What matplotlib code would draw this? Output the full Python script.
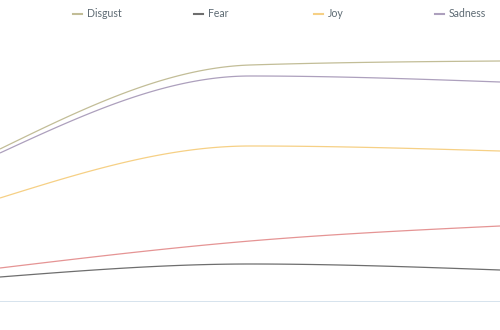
import numpy as np
import matplotlib
matplotlib.use("Agg")
import matplotlib.pyplot as plt
from matplotlib.lines import Line2D

# three sample points spread across the width
x = [0, 1, 2]
disgust = [153, 237, 241]
sadness = [149, 226, 220]
joy = [104, 156, 151]
anger = [34, 61, 76]
fear = [25, 38, 32]

series = [
    ("Disgust", disgust, "#c2bd97"),
    ("Sadness", sadness, "#ada0bd"),
    ("Joy", joy, "#f6d085"),
    ("Anger", anger, "#e59494"),
    ("Fear", fear, "#6e6e6e"),
]
legend_names = ["Disgust", "Fear", "Joy", "Sadness"]


def monotone(xs, ys, n=60):
    # d3 curveMonotoneX style interpolation
    xs = np.asarray(xs, float)
    ys = np.asarray(ys, float)
    h = np.diff(xs)
    s = np.diff(ys) / h
    t = np.zeros(len(xs))
    for i in range(1, len(xs) - 1):
        p = (s[i - 1] * h[i] + s[i] * h[i - 1]) / (h[i - 1] + h[i])
        t[i] = (np.sign(s[i - 1]) + np.sign(s[i])) * min(abs(s[i - 1]), abs(s[i]), 0.5 * abs(p))
    t[0] = (3 * s[0] - t[1]) / 2
    t[-1] = (3 * s[-1] - t[-2]) / 2
    out_x, out_y = [], []
    for i in range(len(xs) - 1):
        u = np.linspace(0, 1, n)
        dx = h[i] / 3
        p0 = np.array([xs[i], ys[i]])
        p1 = np.array([xs[i] + dx, ys[i] + dx * t[i]])
        p2 = np.array([xs[i + 1] - dx, ys[i + 1] - dx * t[i + 1]])
        p3 = np.array([xs[i + 1], ys[i + 1]])
        b = ((1 - u) ** 3)[:, None] * p0 + (3 * (1 - u) ** 2 * u)[:, None] * p1 \
            + (3 * (1 - u) * u ** 2)[:, None] * p2 + (u ** 3)[:, None] * p3
        out_x.extend(b[:, 0])
        out_y.extend(b[:, 1])
    return out_x, out_y


fig = plt.figure(figsize=(5, 3.3), dpi=100)
ax = fig.add_axes([0, 28 / 330, 1, 302 / 330])
ax.set_xlim(0, 2)
ax.set_ylim(0, 302)
ax.axis("off")

colors = {}
for name, vals, c in series:
    sx, sy = monotone(x, vals)
    ax.plot(sx, sy, color=c, lw=0.9, solid_capstyle="butt")
    colors[name] = c

ax.axhline(0, color="#d3e0ec", lw=1.3)

# legend across the top
starts = [73, 194, 314, 435]
for name, px in zip(legend_names, starts):
    y = 1 - 13.5 / 330
    fig.add_artist(Line2D([px / 500, (px + 9) / 500], [y, y], color=colors[name], lw=1.5))
    fig.text((px + 14) / 500, y, name, fontsize=7.6, family="Lato",
             color="#5d6a73", va="center", ha="left")

fig.savefig("out.png", dpi=100)
